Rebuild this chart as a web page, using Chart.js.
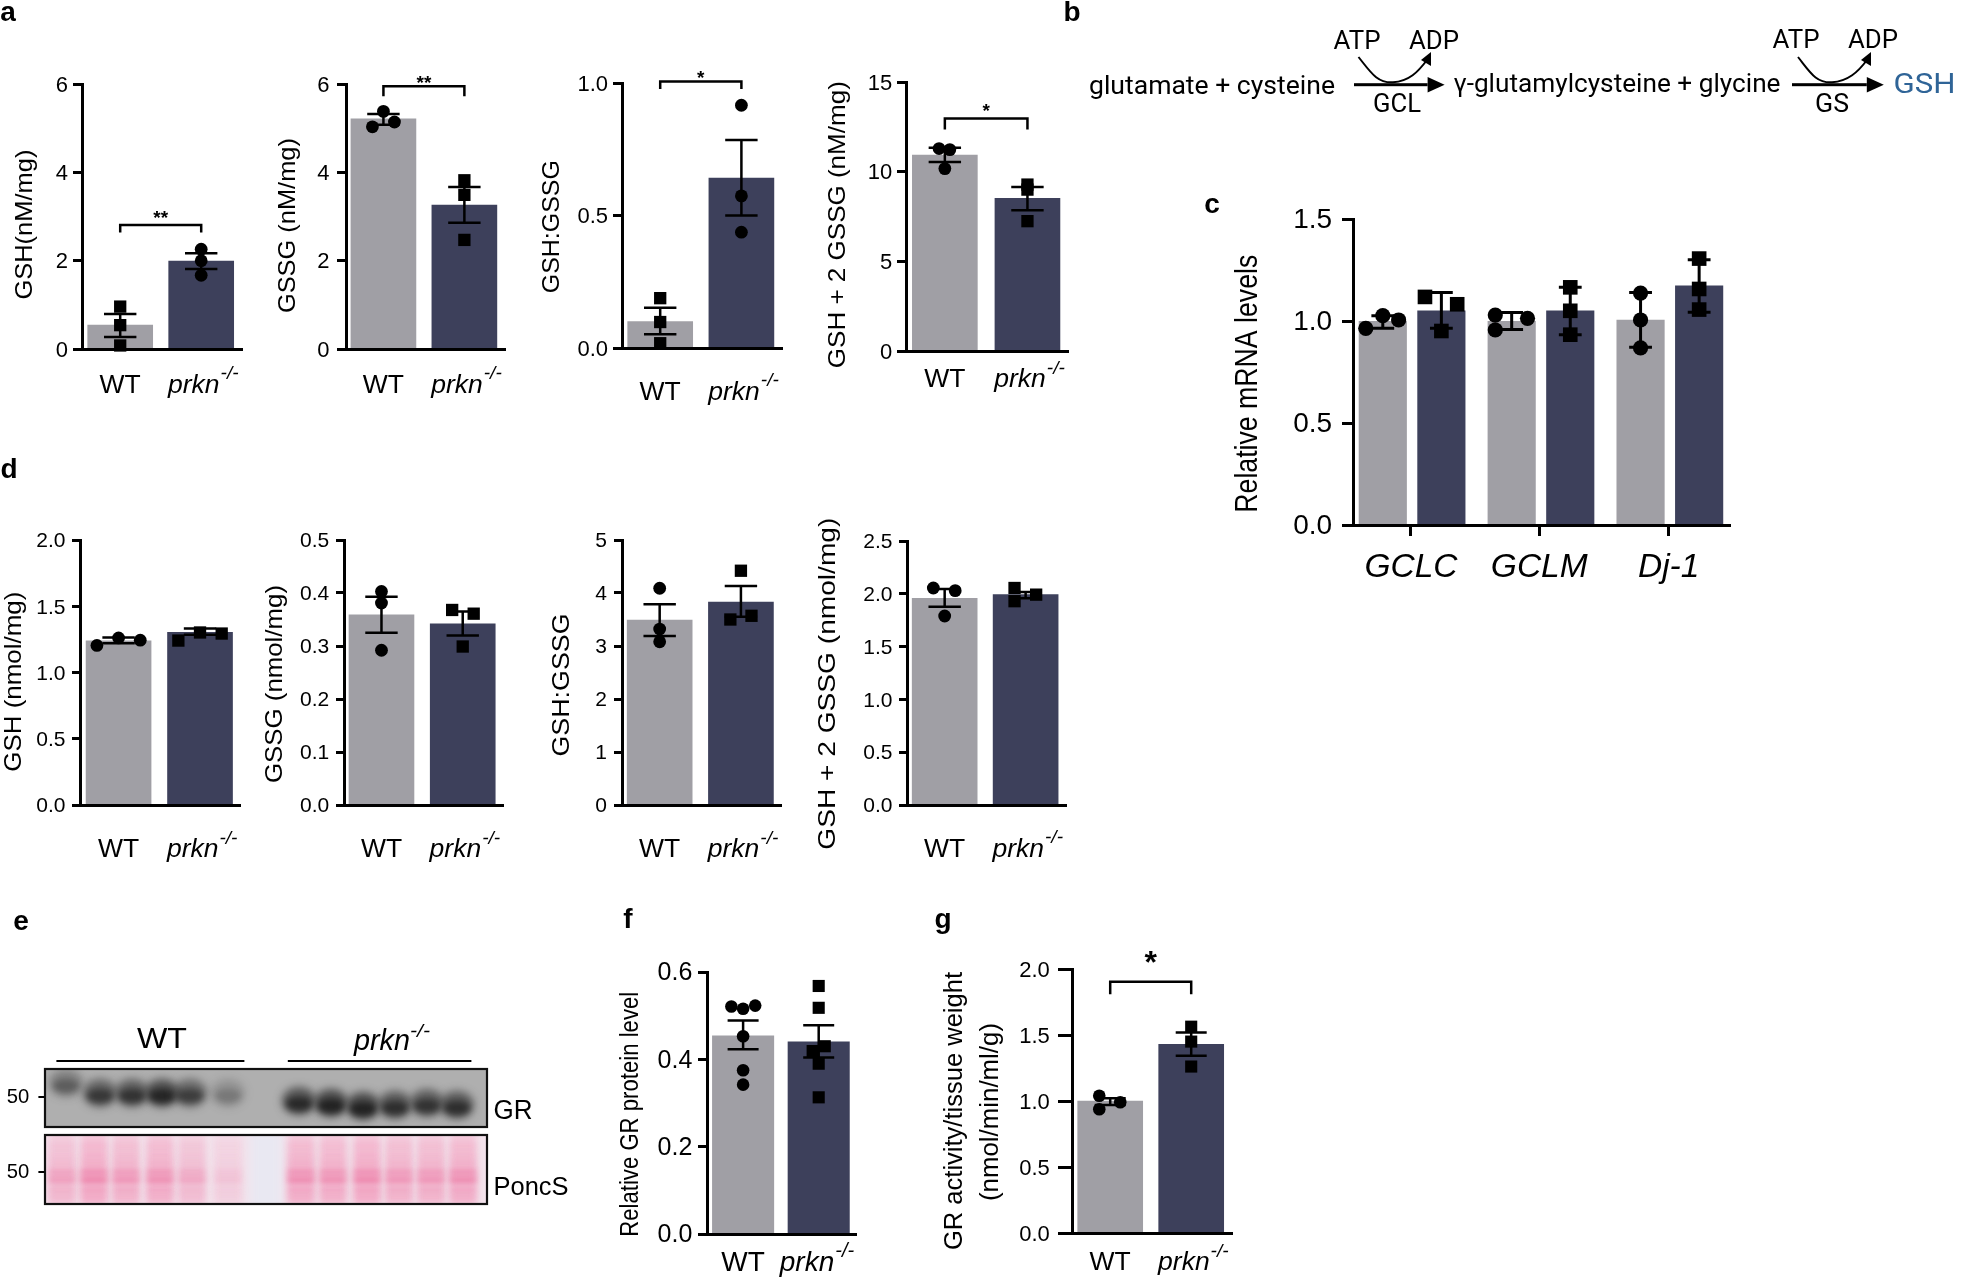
<!DOCTYPE html>
<html lang="en">
<head>
<meta charset="UTF-8" />
<title>GSH panels</title>
<script src="https://cdn.jsdelivr.net/npm/chart.js@4"></script>
<style>
  html, body { margin: 0; padding: 0; background: #fff; width: 1961px; height: 1278px; overflow: hidden; }
  canvas { position: absolute; }
</style>
</head>
<body>
<canvas id="art" width="1961" height="1278" style="left:0;top:0"></canvas>
<script>
const groups = ["WT", "prkn"];
const genes = ["GCLC", "GCLM", "Dj-1"];
const barColors = ["#a09fa5", "#3d405b"];

// panel a
const a1Ticks = ["0", "2", "4", "6"];
const a1Means = [0.54, 1.99];
const a1Low = [0.27, 1.81];
const a1High = [0.79, 2.17];
const a1Wt = [[0, 0.96], [0, 0.54], [0, 0.08]];
const a1Ko = [[1, 2.26], [1, 2.0], [1, 1.67]];
const a1Sig = [0, 1, 2.81];

const a2Ticks = ["0", "2", "4", "6"];
const a2Means = [5.21, 3.26];
const a2Low = [5.08, 2.86];
const a2High = [5.32, 3.67];
const a2Wt = [[0, 5.38], [-0.136, 5.03], [0.136, 5.14]];
const a2Ko = [[1, 3.82], [1, 3.49], [1, 2.47]];
const a2Sig = [0, 1, 5.95];

const a3Ticks = ["0.0", "0.5", "1.0"];
const a3Means = [0.1, 0.641];
const a3Low = [0.052, 0.5];
const a3High = [0.152, 0.785];
const a3Wt = [[0, 0.188], [0, 0.098], [0, 0.018]];
const a3Ko = [[1, 0.916], [1, 0.574], [1, 0.437]];
const a3Sig = [0, 1, 1.006];

const a4Ticks = ["0", "5", "10", "15"];
const a4Means = [10.93, 8.52];
const a4Low = [10.54, 7.85];
const a4High = [11.34, 9.15];
const a4Wt = [[-0.07, 11.29], [0.06, 11.23], [0, 10.17]];
const a4Ko = [[1, 9.28], [1, 9.0], [1, 7.24]];
const a4Sig = [0, 1, 12.96];

// panel c
const cTicks = ["0.0", "0.5", "1.0", "1.5"];
const cGroupX = [0.48, 2.67, 4.88];
const cBarX = [0, 1, 2.2, 3.2, 4.4, 5.4];
const cMeans = [0.998, 1.05, 0.998, 1.05, 1.005, 1.173];
const cLow = [0.964, 0.964, 0.958, 0.933, 0.871, 1.043];
const cHigh = [1.026, 1.14, 1.042, 1.165, 1.14, 1.3];
const cWt = [[-0.29, 0.964], [0, 1.026], [0.27, 1.005], [1.92, 1.029], [1.92, 0.956], [2.47, 1.013], [4.4, 1.137], [4.4, 1.005], [4.4, 0.868]];
const cKo = [[0.72, 1.118], [1.27, 1.082], [1, 0.951], [3.2, 1.165], [3.2, 1.05], [3.2, 0.933], [5.4, 1.306], [5.4, 1.157], [5.4, 1.056]];

// panel d
const d1Ticks = ["0.0", "0.5", "1.0", "1.5", "2.0"];
const d1Means = [1.239, 1.304];
const d1Low = [1.221, 1.284];
const d1High = [1.264, 1.332];
const d1Wt = [[-0.266, 1.204], [0, 1.261], [0.266, 1.244]];
const d1Ko = [[0.734, 1.241], [1, 1.302], [1.266, 1.294]];

const d2Ticks = ["0.0", "0.1", "0.2", "0.3", "0.4", "0.5"];
const d2Means = [0.359, 0.342];
const d2Low = [0.325, 0.32];
const d2High = [0.393, 0.365];
const d2Wt = [[0, 0.403], [0, 0.381], [0, 0.292]];
const d2Ko = [[0.87, 0.368], [1.135, 0.361], [1, 0.299]];

const d3Ticks = ["0", "1", "2", "3", "4", "5"];
const d3Means = [3.49, 3.83];
const d3Low = [3.19, 3.55];
const d3High = [3.79, 4.13];
const d3Wt = [[0, 4.09], [0, 3.32], [0, 3.08]];
const d3Ko = [[1, 4.42], [0.87, 3.5], [1.13, 3.57]];

const d4Ticks = ["0.0", "0.5", "1.0", "1.5", "2.0", "2.5"];
const d4Means = [1.957, 1.992];
const d4Low = [1.878, 1.957];
const d4High = [2.045, 2.017];
const d4Wt = [[-0.14, 2.055], [0.13, 2.03], [0, 1.79]];
const d4Ko = [[0.863, 2.055], [0.863, 1.93], [1.13, 1.992]];

// panel f, g
const fTicks = ["0.0", "0.2", "0.4", "0.6"];
const fMeans = [0.454, 0.44];
const fLow = [0.423, 0.404];
const fHigh = [0.489, 0.478];
const fWt = [[-0.155, 0.521], [0, 0.516], [0.16, 0.523], [0, 0.453], [0, 0.375], [0, 0.342]];
const fKo = [[1, 0.568], [1, 0.518], [0.92, 0.419], [1.08, 0.43], [1, 0.39], [1, 0.313]];

const gTicks = ["0.0", "0.5", "1.0", "1.5", "2.0"];
const gMeans = [0.999, 1.43];
const gLow = [0.97, 1.342];
const gHigh = [1.02, 1.518];
const gWt = [[-0.135, 1.04], [0.124, 0.99], [-0.135, 0.938]];
const gKo = [[1, 1.563], [1, 1.45], [1, 1.261]];
const gSig = [0, 1, 1.904];

// blot lanes, dark = band strength
const grLaneX = [66, 100, 132, 162, 190, 228, 299, 331, 363, 395, 427, 457];
const grLaneY = [1085, 1095, 1095, 1095, 1095, 1095, 1103, 1105, 1108, 1107, 1105, 1107];
const grDark = [0.45, 0.75, 0.8, 0.95, 0.7, 0.28, 0.9, 1, 1, 0.85, 0.8, 0.85];
const poncLaneX = [62, 94, 126, 160, 192, 228, 301, 333, 367, 399, 431, 463];
const poncDark = [0.7, 0.95, 0.8, 0.85, 0.6, 0.3, 0.9, 0.85, 0.95, 0.8, 0.8, 0.9];
const poncBandY = [1146, 1155, 1163, 1172, 1180, 1190, 1198];
const poncBandA = [0.18, 0.22, 0.3, 0.7, 0.85, 0.45, 0.35];

const FONT = '"Liberation Sans", Arial, sans-serif';
const art = document.getElementById("art").getContext("2d");

// text that is fitted to a given length along its reading direction
function putText(ctx, str, x, y, o) {
  o = o || {};
  ctx.save();
  ctx.font = o.font || "24px " + FONT;
  ctx.fillStyle = o.color || "#000";
  ctx.textAlign = "center";
  ctx.textBaseline = "middle";
  ctx.translate(x, y);
  if (o.rot) ctx.rotate(-Math.PI / 2);
  if (o.len) ctx.scale(o.len / ctx.measureText(str).width, 1);
  ctx.fillText(str, 0, 0);
  ctx.restore();
}

function addPanel(p) {
  const mL = 130, mT = 70, mR = 30, mB = 60;
  const left = p.axisX - mL, top = p.top - mT;
  const w = p.right - p.axisX + mL + mR, h = p.bottom - p.top + mT + mB;
  const canvas = document.createElement("canvas");
  canvas.width = Math.round(w);
  canvas.height = Math.round(h);
  canvas.style.left = left + "px";
  canvas.style.top = top + "px";
  document.body.appendChild(canvas);

  const yLabels = p.ticks;
  const xLabels = p.xLabels || groups;
  const xPos = p.xPos || [0, 1];
  const barX = p.barX || [0, 1];
  const unit = p.c1 - p.c0;
  const tl = p.tickLen;
  const pad = p.koPad === undefined ? "  " : p.koPad;
  const xTl = p.xTick ? 11 : 0;

  const overlay = {
    id: "overlay",
    afterDatasetsDraw(chart) {
      const ctx = chart.ctx, xs = chart.scales.x, ys = chart.scales.y;
      ctx.save();
      ctx.strokeStyle = "#000";
      ctx.lineWidth = p.errW || 2.5;
      barX.forEach((bx, i) => {
        const px = xs.getPixelForValue(bx);
        const lo = ys.getPixelForValue(p.low[i]), hi = ys.getPixelForValue(p.high[i]);
        ctx.beginPath();
        ctx.moveTo(px, lo); ctx.lineTo(px, hi);
        ctx.moveTo(px - p.cap, lo); ctx.lineTo(px + p.cap, lo);
        ctx.moveTo(px - p.cap, hi); ctx.lineTo(px + p.cap, hi);
        ctx.stroke();
      });
      ctx.restore();
    },
    afterDraw(chart) {
      const ctx = chart.ctx, xs = chart.scales.x, ys = chart.scales.y;
      (p.titles || []).forEach(t => putText(ctx, t.text, t.x - left, t.y - top, { font: t.size + "px " + FONT, rot: true, len: t.len }));
      if (p.sig) {
        const x0 = xs.getPixelForValue(p.sig[0]), x1 = xs.getPixelForValue(p.sig[1]), y = ys.getPixelForValue(p.sig[2]);
        ctx.save();
        ctx.strokeStyle = "#000";
        ctx.lineWidth = 2.5;
        ctx.beginPath();
        ctx.moveTo(x0, y + p.leg); ctx.lineTo(x0, y); ctx.lineTo(x1, y); ctx.lineTo(x1, y + p.leg);
        ctx.stroke();
        ctx.font = "bold " + p.starSize + "px " + FONT;
        ctx.textAlign = "center";
        ctx.textBaseline = "alphabetic";
        ctx.fillStyle = "#000";
        ctx.fillText(p.star, (x0 + x1) / 2, y - p.starGap + 0.56 * p.starSize);
        ctx.restore();
      }
      if (!p.xLabels) {
        // superscript after the italic tick label
        const size = p.xSize, cx = xs.getPixelForValue(1);
        ctx.save();
        ctx.font = "italic " + size + "px " + FONT;
        const wAll = ctx.measureText("prkn" + pad).width, wTxt = ctx.measureText("prkn").width;
        ctx.font = "italic " + Math.round(size * 0.7) + "px " + FONT;
        ctx.textAlign = "left";
        ctx.textBaseline = "middle";
        ctx.fillStyle = "#000";
        ctx.fillText("-/-", cx - wAll / 2 + wTxt + 1, p.labelY - top - size * 0.42);
        ctx.restore();
      }
    }
  };

  // squares and dots swap between WT and prkn in some panels
  const wtStyle = p.wtRect ? "rect" : "circle";
  const koStyle = p.wtRect ? "circle" : "rect";
  const radius = s => (s === "rect" ? p.ptR * 1.36 : p.ptR);

  new Chart(canvas.getContext("2d"), {
    type: "bar",
    data: {
      datasets: [
        {
          data: p.bars.map((v, i) => ({ x: barX[i], y: v })),
          backgroundColor: barX.map((_, i) => barColors[i % 2]),
          barThickness: p.barW,
          order: 3,
          clip: false
        },
        {
          type: "scatter",
          data: p.wt.map(d => ({ x: d[0], y: d[1] })),
          pointStyle: wtStyle,
          pointRadius: radius(wtStyle),
          backgroundColor: "#000",
          borderWidth: 0,
          order: 1,
          clip: false
        },
        {
          type: "scatter",
          data: p.ko.map(d => ({ x: d[0], y: d[1] })),
          pointStyle: koStyle,
          pointRadius: radius(koStyle),
          backgroundColor: "#000",
          borderWidth: 0,
          order: 1,
          clip: false
        }
      ]
    },
    options: {
      responsive: false,
      animation: false,
      events: [],
      devicePixelRatio: 1,
      layout: {
        autoPadding: false,
        padding: { left: 0, top: mT, right: mR, bottom: 0 }
      },
      plugins: { legend: { display: false }, tooltip: { enabled: false } },
      scales: {
        x: {
          type: "linear",
          offset: false,
          min: (p.axisX - p.c0) / unit,
          max: (p.right - p.c0) / unit,
          afterBuildTicks: s => { s.ticks = xPos.map(v => ({ value: v })); },
          afterFit: s => { s.height = mB; },
          grid: {
            display: !!p.xTick,
            offset: false,
            drawOnChartArea: false,
            drawTicks: !!p.xTick,
            tickLength: 11,
            tickWidth: 3,
            tickColor: "#000"
          },
          border: { display: true, color: "#000", width: 3, z: 1 },
          ticks: {
            autoSkip: false,
            maxRotation: 0,
            color: "#000",
            padding: p.labelY - p.bottom - xTl - 0.6 * p.xSize,
            font: ctx => ({
              family: FONT,
              size: p.xSize,
              style: p.xLabels || ctx.index === 1 ? "italic" : "normal"
            }),
            callback: (v, i) => (!p.xLabels && i === 1 ? xLabels[i] + pad : xLabels[i])
          }
        },
        y: {
          type: "linear",
          min: 0,
          max: Number(yLabels[yLabels.length - 1]),
          afterBuildTicks: s => { s.ticks = yLabels.map(l => ({ value: Number(l) })); },
          afterFit: s => { s.width = mL; },
          grid: {
            drawOnChartArea: false,
            drawTicks: true,
            tickLength: tl,
            tickWidth: 3,
            tickColor: "#000"
          },
          border: { display: true, color: "#000", width: 3, z: 1 },
          ticks: {
            autoSkip: false,
            color: "#000",
            labelOffset: 1.5,
            padding: p.axisX - tl - p.tickRight,
            font: { family: FONT, size: p.ySize },
            callback: (v, i) => yLabels[i]
          }
        }
      }
    },
    plugins: [overlay]
  });
}

const base = { barW: 65, cap: 16.2, ptR: 6.4, tickLen: 9, xSize: 26.5, ySize: 22 };

addPanel({ ...base, axisX: 82, right: 242, top: 84.4, bottom: 349, c0: 120.2, c1: 201.2, tickRight: 68, labelY: 385.5, wtRect: true,
  ticks: a1Ticks, bars: a1Means, low: a1Low, high: a1High, wt: a1Wt, ko: a1Ko,
  sig: a1Sig, leg: 7.5, star: "**", starSize: 19, starGap: 11.7,
  titles: [{ text: "GSH(nM/mg)", x: 25, y: 225, len: 150, size: 24 }] });
addPanel({ ...base, axisX: 346.4, right: 505.7, top: 84.4, bottom: 349, c0: 383.9, c1: 465, tickRight: 330, labelY: 385.5,
  ticks: a2Ticks, bars: a2Means, low: a2Low, high: a2High, wt: a2Wt, ko: a2Ko,
  sig: a2Sig, leg: 10, star: "**", starSize: 19, starGap: 8.3,
  titles: [{ text: "GSSG (nM/mg)", x: 289, y: 226, len: 175, size: 24 }] });
addPanel({ ...base, axisX: 622, right: 782, top: 83.3, bottom: 348, c0: 660.2, c1: 741.4, tickRight: 608, labelY: 392.5, wtRect: true,
  ticks: a3Ticks, bars: a3Means, low: a3Low, high: a3High, wt: a3Wt, ko: a3Ko,
  sig: a3Sig, leg: 7.7, star: "*", starSize: 19, starGap: 8.3,
  titles: [{ text: "GSH:GSSG", x: 552.5, y: 227, len: 133, size: 24 }] });
addPanel({ ...base, axisX: 905.7, right: 1067.5, top: 82.3, bottom: 351.7, c0: 944.5, c1: 1027, tickRight: 892, labelY: 380,
  ticks: a4Ticks, bars: a4Means, low: a4Low, high: a4High, wt: a4Wt, ko: a4Ko,
  sig: a4Sig, leg: 11, star: "*", starSize: 19, starGap: 12.3,
  titles: [{ text: "GSH + 2 GSSG (nM/mg)", x: 838, y: 225, len: 287, size: 24 }] });

addPanel({ ...base, axisX: 1352.9, right: 1730, top: 219.3, bottom: 525.3, c0: 1382.7, c1: 1441.3, barW: 47.5, cap: 11.4, ptR: 7.6,
  errW: 3, tickLen: 11, tickRight: 1332, labelY: 568, xSize: 33.5, ySize: 28, xTick: true,
  xLabels: genes, xPos: cGroupX, barX: cBarX,
  ticks: cTicks, bars: cMeans, low: cLow, high: cHigh, wt: cWt, ko: cKo,
  titles: [{ text: "Relative mRNA levels", x: 1248, y: 384, len: 258, size: 31 }] });

addPanel({ ...base, axisX: 79.9, right: 240, top: 540, bottom: 805.3, c0: 118.5, c1: 200, tickLen: 8, ySize: 21, tickRight: 65.4, labelY: 849.5,
  ticks: d1Ticks, bars: d1Means, low: d1Low, high: d1High, wt: d1Wt, ko: d1Ko,
  titles: [{ text: "GSH (nmol/mg)", x: 14, y: 681.7, len: 180, size: 24 }] });
addPanel({ ...base, axisX: 343.7, right: 502.8, top: 540, bottom: 805.3, c0: 381.2, c1: 462.5, tickLen: 8, ySize: 21, tickRight: 329, labelY: 849.5,
  ticks: d2Ticks, bars: d2Means, low: d2Low, high: d2High, wt: d2Wt, ko: d2Ko,
  titles: [{ text: "GSSG (nmol/mg)", x: 275.5, y: 684, len: 198, size: 24 }] });
addPanel({ ...base, axisX: 622, right: 780.7, top: 540, bottom: 805.3, c0: 659.6, c1: 740.7, tickLen: 8, ySize: 21, tickRight: 607, labelY: 849.5,
  ticks: d3Ticks, bars: d3Means, low: d3Low, high: d3High, wt: d3Wt, ko: d3Ko,
  titles: [{ text: "GSH:GSSG", x: 562, y: 685, len: 143, size: 24 }] });
addPanel({ ...base, axisX: 907, right: 1065.7, top: 541.3, bottom: 805.3, c0: 944.6, c1: 1025.4, tickLen: 8, ySize: 21, tickRight: 892.5, labelY: 849.5,
  ticks: d4Ticks, bars: d4Means, low: d4Low, high: d4High, wt: d4Wt, ko: d4Ko,
  titles: [{ text: "GSH + 2 GSSG (nmol/mg)", x: 828, y: 684, len: 332, size: 24 }] });

addPanel({ ...base, axisX: 707.3, right: 856.7, top: 971.7, bottom: 1233.3, c0: 743.5, c1: 819.3, barW: 61.4, cap: 15.5, ptR: 6.3,
  xSize: 28, ySize: 25, tickRight: 692.6, labelY: 1263, koPad: "   ",
  ticks: fTicks, bars: fMeans, low: fLow, high: fHigh, wt: fWt, ko: fKo,
  titles: [{ text: "Relative GR protein level", x: 631.6, y: 1114, len: 245, size: 26 }] });
addPanel({ ...base, axisX: 1072.2, right: 1232.6, top: 969, bottom: 1233.3, c0: 1110.5, c1: 1191.7, cap: 15.5, ptR: 6.3,
  tickLen: 14, ySize: 22, tickRight: 1050, labelY: 1263,
  ticks: gTicks, bars: gMeans, low: gLow, high: gHigh, wt: gWt, ko: gKo,
  sig: gSig, leg: 12.7, star: "*", starSize: 32, starGap: 26.7,
  titles: [
    { text: "GR activity/tissue weight", x: 955.6, y: 1111, len: 278, size: 25 },
    { text: "(nmol/min/ml/g)", x: 991.4, y: 1112, len: 178, size: 25 }
  ] });

// panel letters
[["a", 8, 13], ["b", 1072, 13], ["c", 1212, 205], ["d", 9, 470], ["e", 21, 922], ["f", 628, 920], ["g", 943, 920]].forEach(l =>
  putText(art, l[0], l[1], l[2], { font: "bold 28px " + FONT }));

// panel b, reaction scheme
function curvedArrow(ctx, x0, x1, xm, yLow) {
  ctx.strokeStyle = "#000";
  ctx.lineWidth = 2;
  ctx.beginPath();
  ctx.moveTo(x0, 57);
  ctx.bezierCurveTo(x0 + 12, 72, xm - 16, yLow + 1, xm, yLow);
  ctx.bezierCurveTo(xm + 16, yLow - 1, x1 - 10, 72, x1 - 1, 60);
  ctx.stroke();
  ctx.fillStyle = "#000";
  ctx.beginPath();
  ctx.moveTo(x1 + 3, 52); ctx.lineTo(x1 + 3, 66); ctx.lineTo(x1 - 7, 60);
  ctx.closePath();
  ctx.fill();
}
function straightArrow(ctx, x0, x1) {
  ctx.fillStyle = "#000";
  ctx.fillRect(x0, 83.2, x1 - 17 - x0, 3);
  ctx.beginPath();
  ctx.moveTo(x1 - 17, 77); ctx.lineTo(x1, 84.7); ctx.lineTo(x1 - 17, 92.5);
  ctx.closePath();
  ctx.fill();
}
const schemeFont = "25px Roboto, " + FONT;
putText(art, "glutamate + cysteine", 1212, 88, { font: schemeFont, len: 246 });
putText(art, "γ-glutamylcysteine + glycine", 1617, 86, { font: schemeFont, len: 327 });
putText(art, "ATP", 1357, 43, { font: schemeFont, len: 47 });
putText(art, "ADP", 1434, 43, { font: schemeFont, len: 50 });
putText(art, "GCL", 1397, 106, { font: schemeFont, len: 48 });
putText(art, "ATP", 1796, 42, { font: schemeFont, len: 47 });
putText(art, "ADP", 1873, 42, { font: schemeFont, len: 50 });
putText(art, "GS", 1832, 106, { font: schemeFont, len: 34 });
putText(art, "GSH", 1924.5, 86, { font: "28px Roboto, " + FONT, len: 62, color: "#2f6497" });
straightArrow(art, 1354, 1444.6);
straightArrow(art, 1792, 1883.8);
curvedArrow(art, 1358.5, 1428, 1393, 82.3);
curvedArrow(art, 1798, 1868, 1832, 82.3);

// panel e, blots
function drawBlots(ctx) {
  // GR film
  ctx.save();
  ctx.beginPath(); ctx.rect(45, 1069, 442, 58); ctx.clip();
  ctx.fillStyle = "#afafaf";
  ctx.fillRect(45, 1069, 442, 58);
  grLaneX.forEach((x, i) => {
    const d = grDark[i];
    ctx.filter = "blur(4px)";
    ctx.fillStyle = "rgba(50,50,50," + (0.8 * d) + ")";
    ctx.beginPath(); ctx.ellipse(x, grLaneY[i] - 2, 17, 14, 0, 0, 7); ctx.fill();
    ctx.filter = "blur(3px)";
    ctx.fillStyle = "rgba(20,20,20," + (0.75 * d) + ")";
    ctx.beginPath(); ctx.ellipse(x, grLaneY[i] + 1, 13, 7, 0, 0, 7); ctx.fill();
  });
  ctx.restore();

  // Ponceau membrane
  ctx.save();
  ctx.beginPath(); ctx.rect(45, 1135, 442, 69); ctx.clip();
  ctx.fillStyle = "#f3e3ec";
  ctx.fillRect(45, 1135, 442, 69);
  ctx.fillStyle = "#e9e8f2";
  ctx.filter = "blur(5px)";
  ctx.fillRect(250, 1130, 32, 80);
  ctx.filter = "blur(3px)";
  poncLaneX.forEach((x, i) => {
    ctx.fillStyle = "rgba(244,195,215," + poncDark[i] + ")";
    ctx.fillRect(x - 13, 1133, 26, 73);
    poncBandY.forEach((y, j) => {
      ctx.fillStyle = "rgba(234,100,150," + (poncDark[i] * poncBandA[j]) + ")";
      ctx.fillRect(x - 14, y - 3, 28, 6);
    });
  });
  ctx.restore();

  ctx.strokeStyle = "#111";
  ctx.lineWidth = 2.2;
  ctx.strokeRect(45, 1069, 442, 58);
  ctx.strokeRect(45, 1135, 442, 69);

  ctx.fillStyle = "#000";
  ctx.fillRect(56.4, 1060, 188, 2);
  ctx.fillRect(287.8, 1060, 183.6, 2);
  ctx.fillRect(38.4, 1096, 6, 2);
  ctx.fillRect(38.4, 1171, 6, 2);
  putText(ctx, "WT", 162, 1040, { font: "29px " + FONT, len: 50 });
  putText(ctx, "prkn", 382, 1042, { font: "italic 29px " + FONT, len: 56 });
  putText(ctx, "-/-", 420, 1032, { font: "italic 19px " + FONT, len: 20 });
  putText(ctx, "50", 18, 1097, { font: "21px " + FONT, len: 22.5 });
  putText(ctx, "50", 18, 1172, { font: "21px " + FONT, len: 22.5 });
  putText(ctx, "GR", 513, 1112, { font: "27px " + FONT, len: 39 });
  putText(ctx, "PoncS", 531, 1188, { font: "26px " + FONT, len: 75 });
}
drawBlots(art);
</script>
</body>
</html>
